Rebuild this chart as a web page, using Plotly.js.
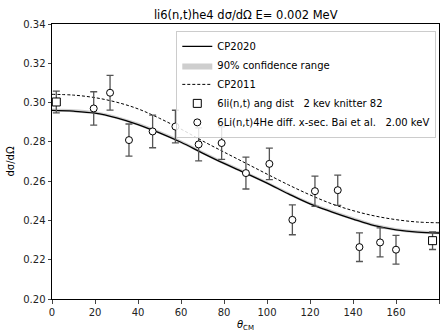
<!DOCTYPE html>
<html>
<head>
<meta charset="utf-8">
<script src="https://cdn.plot.ly/plotly-3.0.1.min.js"></script>
<style>html,body{margin:0;padding:0;background:#fff;}#plot{width:448px;height:332px;}</style>
</head>
<body>
<div id="plot"></div>
<script>
// Angles for the evaluated curves (degrees)
const curveAngles = [0,10,20,30,40,50,60,70,80,90,100,110,120,130,140,150,160,170,180];
// CP2020 evaluation
const cp2020 = [0.2960,0.2956,0.2946,0.2922,0.2888,0.2846,0.2798,0.2743,0.2690,0.2641,0.2590,0.2535,0.2484,0.2444,0.2407,0.2373,0.2352,0.2340,0.2336];
// 90% confidence range
const bandLow  = [0.2954,0.2950,0.2940,0.2916,0.2882,0.2840,0.2792,0.2737,0.2684,0.2635,0.2584,0.2529,0.2478,0.2438,0.2401,0.2367,0.2346,0.2334,0.2330];
const bandHigh = [0.2970,0.2966,0.2956,0.2932,0.2898,0.2856,0.2808,0.2753,0.2700,0.2651,0.2600,0.2545,0.2494,0.2454,0.2417,0.2383,0.2362,0.2350,0.2346];
// CP2011 evaluation
const cp2011 = [0.3042,0.3038,0.3025,0.3002,0.2968,0.2920,0.2865,0.2805,0.2748,0.2692,0.2636,0.2581,0.2530,0.2485,0.2450,0.2423,0.2404,0.2392,0.2388];

// Knitter 82 data
const knitAngle = [2.0, 177.0];
const knitVal   = [0.3003, 0.2297];
const knitErr   = [0.0055, 0.0045];

// Bai et al. data
const baiAngle = [19.4, 27.0, 35.8, 46.8, 57.4, 68.2, 78.9, 90.2, 101.1, 111.8, 122.3, 132.9, 143.0, 152.6, 160.0];
const baiVal   = [0.2970, 0.3050, 0.2809, 0.2853, 0.2878, 0.2787, 0.2794, 0.2641, 0.2688, 0.2403, 0.2549, 0.2554, 0.2264, 0.2288, 0.2251];
const baiErr   = [0.0085, 0.0088, 0.0082, 0.0083, 0.0083, 0.0084, 0.0083, 0.0081, 0.0080, 0.0076, 0.0077, 0.0077, 0.0073, 0.0074, 0.0073];

const traces = [
  {x: curveAngles, y: bandLow, type:'scatter', mode:'lines', showlegend:false, hoverinfo:'skip',
   line:{color:'rgba(0,0,0,0)', width:0, shape:'spline'}},
  {x: curveAngles, y: bandHigh, type:'scatter', mode:'lines', name:'90% confidence range', legendrank:2,
   fill:'tonexty', fillcolor:'rgba(190,190,190,0.75)',
   line:{color:'rgba(0,0,0,0)', width:0, shape:'spline'}},
  {x: curveAngles, y: cp2020, type:'scatter', mode:'lines', name:'CP2020', legendrank:1,
   line:{color:'#000', width:1.3, shape:'spline'}},
  {x: curveAngles, y: cp2011, type:'scatter', mode:'lines', name:'CP2011', legendrank:3,
   line:{color:'#000', width:1, dash:'3px,2px', shape:'spline'}},
  {x: knitAngle, y: knitVal, type:'scatter', mode:'markers', name:'6li(n,t) ang dist   2 kev knitter 82', legendrank:4,
   marker:{symbol:'square', size:8, color:'#fff', line:{color:'#000', width:1}},
   error_y:{type:'data', array:knitErr, visible:true, color:'#555', thickness:1.3, width:3.5}},
  {x: baiAngle, y: baiVal, type:'scatter', mode:'markers', name:'6Li(n,t)4He diff. x-sec. Bai et al.   2.00 keV', legendrank:5,
   marker:{symbol:'circle', size:7, color:'#fff', line:{color:'#000', width:1}},
   error_y:{type:'data', array:baiErr, visible:true, color:'#555', thickness:1.3, width:3.5}}
];

const layout = {
  width:448, height:332,
  margin:{l:52, r:9, t:24, b:33},
  paper_bgcolor:'#fff', plot_bgcolor:'#fff',
  font:{family:'DejaVu Sans', size:10, color:'#000'},
  title:{text:'li6(n,t)he4 dσ/dΩ E= 0.002 MeV', font:{size:11.5, color:'#000'}, x:0.5485, xanchor:'center', y:0.955, yanchor:'middle'},
  xaxis:{range:[0,180], tickvals:[0,20,40,60,80,100,120,140,160,180], ticks:'outside', ticklen:3.5,
         showline:true, linecolor:'#000', linewidth:1, mirror:true, showgrid:false, zeroline:false,
         tickfont:{size:10, color:'#222'},
         title:{text:'<i>θ</i><sub>CM</sub>', font:{size:10}, standoff:4}},
  yaxis:{range:[0.20,0.34], tickvals:[0.20,0.22,0.24,0.26,0.28,0.30,0.32,0.34], tickformat:'.2f',
         ticks:'outside', ticklen:3.5,
         showline:true, linecolor:'#000', linewidth:1, mirror:true, showgrid:false, zeroline:false,
         tickfont:{size:10, color:'#222'},
         title:{text:'dσ/dΩ', font:{size:10}, standoff:6}},
  legend:{x:0.993, xanchor:'right', y:0.975, yanchor:'top', bgcolor:'rgba(255,255,255,0.85)',
          bordercolor:'#ccc', borderwidth:1, font:{size:10, color:'#000'}, tracegroupgap:0,
          traceorder:'normal', itemwidth:30},
  showlegend:true
};

Plotly.newPlot('plot', traces, layout, {staticPlot:true, displayModeBar:false});
</script>
</body>
</html>
